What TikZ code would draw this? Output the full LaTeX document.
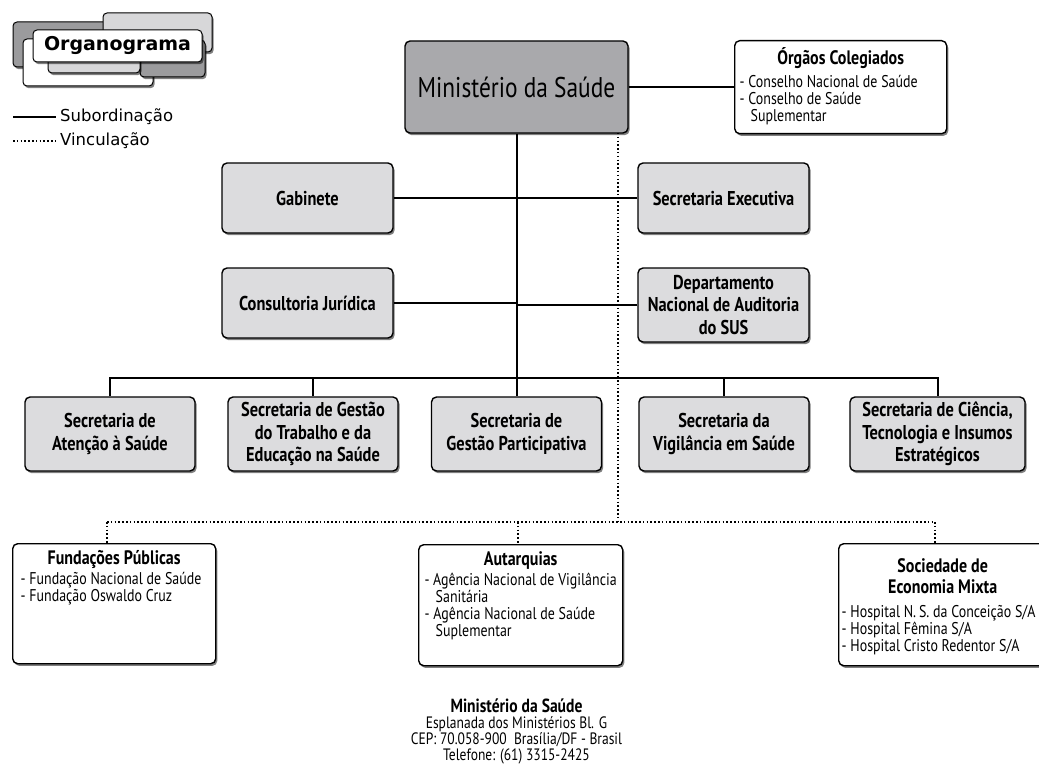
\documentclass[tikz,border=0pt]{standalone}
\usepackage{fontspec}
\usetikzlibrary{shadows,calc}
\newfontfamily\ptc[FakeStretch=0.82]{PT Sans}
\newfontfamily\dvs{DejaVu Sans}
\definecolor{mgray}{HTML}{A9A9AC}
\definecolor{lgray}{HTML}{DCDCDE}
\definecolor{dlogo}{HTML}{9B9B9D}
\definecolor{llogo}{HTML}{D7D7D9}
\newcommand\tbf{\ptc\bfseries\fontsize{20}{22.5}\selectfont}
\newcommand\ttl{\ptc\bfseries\fontsize{19.5}{21}\selectfont}
\newcommand\titem{\ptc\fontsize{17}{17}\selectfont}
\newcommand\itm[1]{\par\hangindent=11pt\hangafter=1\relax -\ #1}
\begin{document}
\begin{tikzpicture}[x=1pt,y=-1pt,
  shad/.style={drop shadow={shadow xshift=1.6pt,shadow yshift=-2.2pt,opacity=0.5,fill=black}},
  orgbox/.style={draw=black,line width=1.4pt,rounded corners=5pt,inner sep=0pt,align=center,shad},
  mainbox/.style={orgbox,fill=mgray,minimum width=223pt,minimum height=92pt,font=\ptc\fontsize{28.5}{30}\selectfont},
  lbox/.style={orgbox,fill=lgray,minimum width=171pt,minimum height=70pt,font=\tbf},
  sbox/.style={orgbox,fill=lgray,minimum width=170pt,minimum height=74pt,font=\tbf},
  wbox/.style={orgbox,fill=white,anchor=north west,inner xsep=8pt,inner ysep=4pt},
  subline/.style={line width=2pt},
  vinc/.style={line width=1.5pt,dash pattern=on 1.5pt off 2.3pt},
  logobox/.style={draw=black,line width=1pt,rounded corners=4pt,shad},
  legtext/.style={anchor=west,inner sep=0pt,font=\dvs\fontsize{16.5}{18}\selectfont}
]
\useasboundingbox (0,0) rectangle (1039,773);

% ---------- logo ----------
\path[logobox,fill=dlogo] (13,22) rectangle (140,67);
\path[logobox,fill=llogo] (103,13) rectangle (212,52);
\path[logobox,fill=white] (23,39) rectangle (153,86);
\path[logobox,fill=dlogo] (140,40) rectangle (205,77);
\path[logobox,fill=llogo] (48,40) rectangle (140,73);
\node[logobox,fill=white,minimum width=169pt,minimum height=32pt,inner sep=0pt,
  font=\dvs\bfseries\fontsize{19}{22}\selectfont] (logo) at (117.5,46) {Organograma};

% ---------- legend ----------
\coordinate (l1a) at (13,117);
\coordinate (l1b) at (56,117);
\coordinate (l2a) at (13,141);
\coordinate (l2b) at (56,141);
\node[legtext] (l1t) at (60,117) {Subordinação};
\node[legtext] (l2t) at (60,141) {Vinculação};
\draw[subline] (l1a) -- (l1b);
\draw[vinc] (l2a) -- (l2b);

% ---------- boxes ----------
\node[mainbox] (main) at (516.5,87) {Ministério da Saúde};

\node[wbox,inner xsep=5pt] (org) at (734,40) {\parbox[c][85pt][t]{202pt}{\vspace*{3pt}%
  {\centering\ttl Órgãos Colegiados\par}\vspace{6pt}\titem\raggedright
  \itm{Conselho Nacional de Saúde}\itm{Conselho de Saúde\newline Suplementar}}};

\node[lbox] (gab) at (307.5,198) {Gabinete};
\node[lbox] (sexe) at (723.5,198) {Secretaria Executiva};
\node[lbox] (cons) at (307.5,303) {Consultoria Jurídica};
\node[lbox,minimum height=74pt] (dena) at (723.5,305) {Departamento\\Nacional de Auditoria\\do SUS};

\node[sbox] (s1) at (110,434) {Secretaria de\\Atenção à Saúde};
\node[sbox] (s2) at (313,434) {Secretaria de Gestão\\do Trabalho e da\\Educação na Saúde};
\node[sbox] (s3) at (516.5,434) {Secretaria de\\Gestão Participativa};
\node[sbox] (s4) at (724,434) {Secretaria da\\Vigilância em Saúde};
\node[sbox,minimum width=175pt] (s5) at (937.5,434) {Secretaria de Ciência,\\Tecnologia e Insumos\\Estratégicos};

\node[wbox] (fund) at (12,543) {\parbox[c][112pt][t]{187pt}{\vspace*{3pt}%
  {\centering\ttl Fundações Públicas\par}\vspace{3pt}\titem\raggedright
  \itm{Fundação Nacional de Saúde}\itm{Fundação Oswaldo Cruz}}};
\node[wbox,inner xsep=6pt] (auta) at (418,544) {\parbox[c][113pt][t]{192pt}{\vspace*{3pt}%
  {\centering\ttl Autarquias\par}\vspace{3pt}\titem\raggedright
  \itm{\mbox{Agência Nacional de Vigilância}\newline Sanitária}\itm{\mbox{Agência Nacional de Saúde}\newline Suplementar}}};
\node[wbox,inner xsep=3pt] (soci) at (838,543) {\parbox[c][114pt][t]{202pt}{\vspace*{11pt}%
  {\centering\ttl Sociedade de\\Economia Mixta\par}\vspace{7pt}\titem\raggedright
  \itm{\mbox{Hospital N.\,S. da Conceição S/A}}\itm{Hospital Fêmina S/A}\itm{Hospital Cristo Redentor S/A}}};

% ---------- footer ----------
\node[align=center,font=\ptc\fontsize{16.5}{16}\selectfont] (foot) at (516.5,731)
  {{\ptc\bfseries\fontsize{19}{18}\selectfont Ministério da Saúde}\\
   Esplanada dos Ministérios Bl. G\\
   CEP: 70.058-900~~Brasília/DF - Brasil\\
   Telefone: (61) 3315-2425};

% ---------- subordination lines ----------
\coordinate (busL) at (110,378);
\draw[subline] (main.east) -- (main.east -| org.west);
\draw[subline] (main.south) -- (main.south |- s3.north);
\draw[subline] (gab.east) -- (gab.east -| main.south);
\draw[subline] (sexe.west) -- (sexe.west -| main.south);
\draw[subline] (cons.east) -- (cons.east -| main.south);
\draw[subline] (dena.west) -- (dena.west -| main.south);
\draw[subline] (s1.north) -- (s1.north |- busL) -- (s5.north |- busL) -- (s5.north);
\draw[subline] (s2.north) -- (s2.north |- busL);
\draw[subline] (s4.north) -- (s4.north |- busL);

% ---------- vinculation lines ----------
\coordinate (vtop) at (618,133);
\coordinate (vbus) at (618,522);
\coordinate (dF) at (107,522);
\coordinate (dA) at (518,522);
\coordinate (dS) at (935,522);
\draw[vinc] (vtop) -- (vbus);
\draw[vinc] (dF) -- (dS);
\draw[vinc] (dF) -- (dF |- fund.north);
\draw[vinc] (dA) -- (dA |- auta.north);
\draw[vinc] (dS) -- (dS |- soci.north);
\end{tikzpicture}
\end{document}
